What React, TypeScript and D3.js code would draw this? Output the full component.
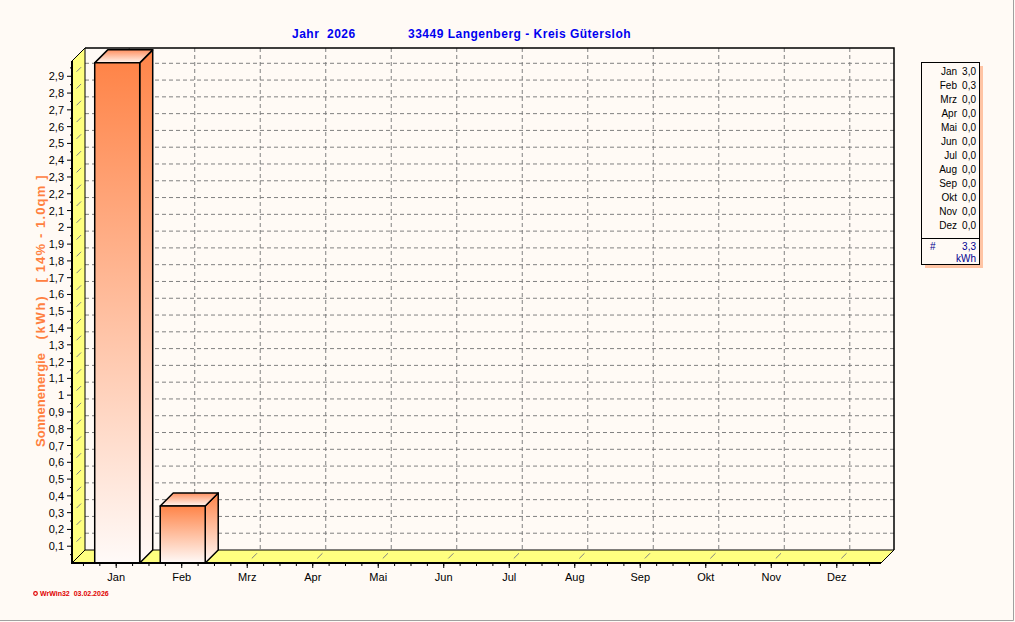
import * as d3 from "d3";

const months = ["Jan", "Feb", "Mrz", "Apr", "Mai", "Jun", "Jul", "Aug", "Sep", "Okt", "Nov", "Dez"];
const energy = [2.98, 0.34, 0, 0, 0, 0, 0, 0, 0, 0, 0, 0];
const yTicks = d3.range(1, 30).map((i) => i / 10);
const yMinorTicks = d3.range(1, 60, 2).map((i) => i / 20);
const yTitle = ["Sonnenenergie", "(kWh)", "[ 14% - 1.0qm ]"];

const W = 1015;
const H = 622;
const DEPTH = 13;
const BAR_W = 45;
const FONT = "'Liberation Sans', Arial, sans-serif";
const BG = "#fffaf5";
const YELLOW = "#ffff80";
const ORANGE = "#ff8040";
const BLUE = "#0000f0";

const fmt = (v: number) => String(+v.toFixed(1)).replace(".", ",");
const fmt1 = (v: number) => v.toFixed(1).replace(".", ",");

// rough placement of the three parts of the rotated axis title (centre y, length)
const titleParts = [
    { cy: 400, len: 0 },
    { cy: 318, len: 43 },
    { cy: 229, len: 107 },
];

const App = () => {
    const x = d3.scalePoint<string>().domain(months).range([72, 881]).padding(0.675);
    const y = d3.scaleLinear().domain([0, 3]).range([563, 59.5]);
    const step = x.step();
    const left = 72;
    const right = 881;
    const bottom = y(0);
    const top = Math.round(y(2.99));

    const minor = d3.range(-2, 47).map((k) => (x(months[0]) as number) + (k * step) / 4);
    const total = d3.sum(energy);

    return (
        <div style={{ position: "absolute", left: 0, top: 0 }}>
            <svg width={W} height={H} style={{ display: "block", background: BG }}>
                <defs>
                    <linearGradient id="front" x1="0" y1="0" x2="0" y2="1">
                        <stop offset="0" stopColor="#ff8448" />
                        <stop offset="1" stopColor="#fffaf8" />
                    </linearGradient>
                    <linearGradient id="topface" x1="0" y1="0" x2="0" y2="1">
                        <stop offset="0" stopColor="#ff9060" />
                        <stop offset="1" stopColor="#fff6f0" />
                    </linearGradient>
                </defs>
                <rect width={W} height={H} fill={BG} />
                <line x1={W - 1.5} y1={0} x2={W - 1.5} y2={H - 1.5} stroke="#a0a0a0" />
                <line x1={0} y1={H - 1.5} x2={W - 1.5} y2={H - 1.5} stroke="#a0a0a0" />

                {/* title */}
                <text x={292} y={38} fontFamily={FONT} fontSize={12} letterSpacing={0.5} fontWeight="bold" fill={BLUE}
                    style={{ whiteSpace: "pre" }}>
                    Jahr  2026
                </text>
                <text x={408} y={38} fontFamily={FONT} fontSize={12} letterSpacing={0.5} fontWeight="bold" fill={BLUE}>
                    33449 Langenberg - Kreis Gütersloh
                </text>

                {/* back wall grid */}
                {yTicks.map((v) => (
                    <line key={"h" + v} x1={left + DEPTH} x2={right + DEPTH} y1={y(v) - DEPTH} y2={y(v) - DEPTH}
                        stroke="#808080" strokeDasharray="4 3" />
                ))}
                {months.map((m) => (
                    <line key={"v" + m} x1={(x(m) as number) + DEPTH} x2={(x(m) as number) + DEPTH}
                        y1={top - DEPTH} y2={bottom - DEPTH} stroke="#808080" strokeDasharray="4 3" />
                ))}
                <polyline points={`${left + DEPTH},${top - DEPTH} ${right + DEPTH},${top - DEPTH} ${right + DEPTH},${bottom - DEPTH}`}
                    fill="none" stroke="#000" strokeWidth={1.5} />

                {/* left wall */}
                <polygon points={`${left},${top} ${left + DEPTH},${top - DEPTH} ${left + DEPTH},${bottom - DEPTH} ${left},${bottom}`}
                    fill={YELLOW} stroke="#000" strokeWidth={1} />
                {yTicks.map((v) => (
                    <line key={"d" + v} x1={left + DEPTH * 0.35} y1={y(v) - DEPTH * 0.35} x2={left + DEPTH * 0.7} y2={y(v) - DEPTH * 0.7}
                        stroke="#808080" />
                ))}

                {/* floor */}
                <polygon points={`${left},${bottom} ${left + DEPTH},${bottom - DEPTH} ${right + DEPTH},${bottom - DEPTH} ${right},${bottom}`}
                    fill={YELLOW} stroke="#000" strokeWidth={1} />
                {months.map((m) => (
                    <line key={"f" + m} x1={(x(m) as number) + DEPTH * 0.35} y1={bottom - DEPTH * 0.35}
                        x2={(x(m) as number) + DEPTH * 0.75} y2={bottom - DEPTH * 0.75} stroke="#808080" />
                ))}

                {/* bars */}
                {months.map((m, i) => {
                    const v = energy[i];
                    if (!v) return null;
                    const x0 = (x(m) as number) - BAR_W / 2 + 1;
                    const x1 = x0 + BAR_W;
                    const yt = y(v);
                    return (
                        <g key={"b" + m} stroke="#000" strokeWidth={1.5} strokeLinejoin="round">
                            <polygon points={`${x1},${yt} ${x1 + DEPTH},${yt - DEPTH} ${x1 + DEPTH},${bottom - DEPTH} ${x1},${bottom}`}
                                fill="url(#front)" />
                            <polygon points={`${x0},${yt} ${x0 + DEPTH},${yt - DEPTH} ${x1 + DEPTH},${yt - DEPTH} ${x1},${yt}`}
                                fill="url(#topface)" />
                            <rect x={x0} y={yt} width={BAR_W} height={bottom - yt} fill="url(#front)" />
                        </g>
                    );
                })}

                {/* y axis */}
                <line x1={left} x2={left} y1={top} y2={bottom + 1} stroke="#000" strokeWidth={2} />
                {yMinorTicks.map((v) => (
                    <line key={"ym" + v} x1={left - 2} x2={left} y1={y(v)} y2={y(v)} stroke="#000" />
                ))}
                {yTicks.map((v) => (
                    <g key={"yt" + v}>
                        <line x1={left - 5} x2={left} y1={y(v)} y2={y(v)} stroke="#000" />
                        <text x={64} y={y(v) + 4} textAnchor="end" fontFamily={FONT} fontSize={11} fill="#000">
                            {fmt(v)}
                        </text>
                    </g>
                ))}
                {yTitle.map((t, i) => (
                    <text key={t} transform={`translate(45, ${titleParts[i].cy}) rotate(-90)`} textAnchor="middle"
                        fontFamily={FONT} fontSize={13} fontWeight="bold" fill={ORANGE}
                        textLength={titleParts[i].len || undefined} lengthAdjust="spacing" style={{ whiteSpace: "pre" }}>
                        {t}
                    </text>
                ))}

                {/* x axis */}
                <line x1={left} x2={right} y1={bottom} y2={bottom} stroke="#000" strokeWidth={2} />
                {minor.map((px, k) => (
                    <line key={"xm" + k} x1={px} x2={px} y1={bottom} y2={bottom + 3} stroke="#000" />
                ))}
                {months.map((m) => (
                    <g key={"xt" + m}>
                        <line x1={x(m)} x2={x(m)} y1={bottom} y2={bottom + 5} stroke="#000" />
                        <text x={x(m)} y={581} textAnchor="middle" fontFamily={FONT} fontSize={11} fill="#000">
                            {m}
                        </text>
                    </g>
                ))}

                {/* legend */}
                <rect x={925} y={66} width={58} height={202} fill="#ffc4a4" />
                <rect x={921.5} y={62.5} width={58} height={202} fill="#fffaf5" stroke="#000" />
                {months.map((m, i) => (
                    <g key={"l" + m} fontFamily={FONT} fontSize={10} fill="#000">
                        <text x={957} y={75 + i * 14} textAnchor="end">{m}</text>
                        <text x={976} y={75 + i * 14} textAnchor="end">{fmt1(energy[i])}</text>
                    </g>
                ))}
                <line x1={922} x2={979} y1={238.5} y2={238.5} stroke="#000" />
                <g fontFamily={FONT} fontSize={10} fill="#000090">
                    <text x={930} y={250}>#</text>
                    <text x={976} y={250} textAnchor="end">{fmt1(total)}</text>
                    <text x={976} y={262} textAnchor="end">kWh</text>
                </g>

                {/* footer */}
                <circle cx={35.5} cy={593.5} r={1.8} fill="none" stroke="#e00000" strokeWidth={1.2} />
                <text x={40} y={596} fontFamily={FONT} fontSize={7} fontWeight="bold" fill="#e00000" style={{ whiteSpace: "pre" }}>
                    WrWin32  03.02.2026
                </text>
            </svg>
        </div>
    );
};

export default App;
